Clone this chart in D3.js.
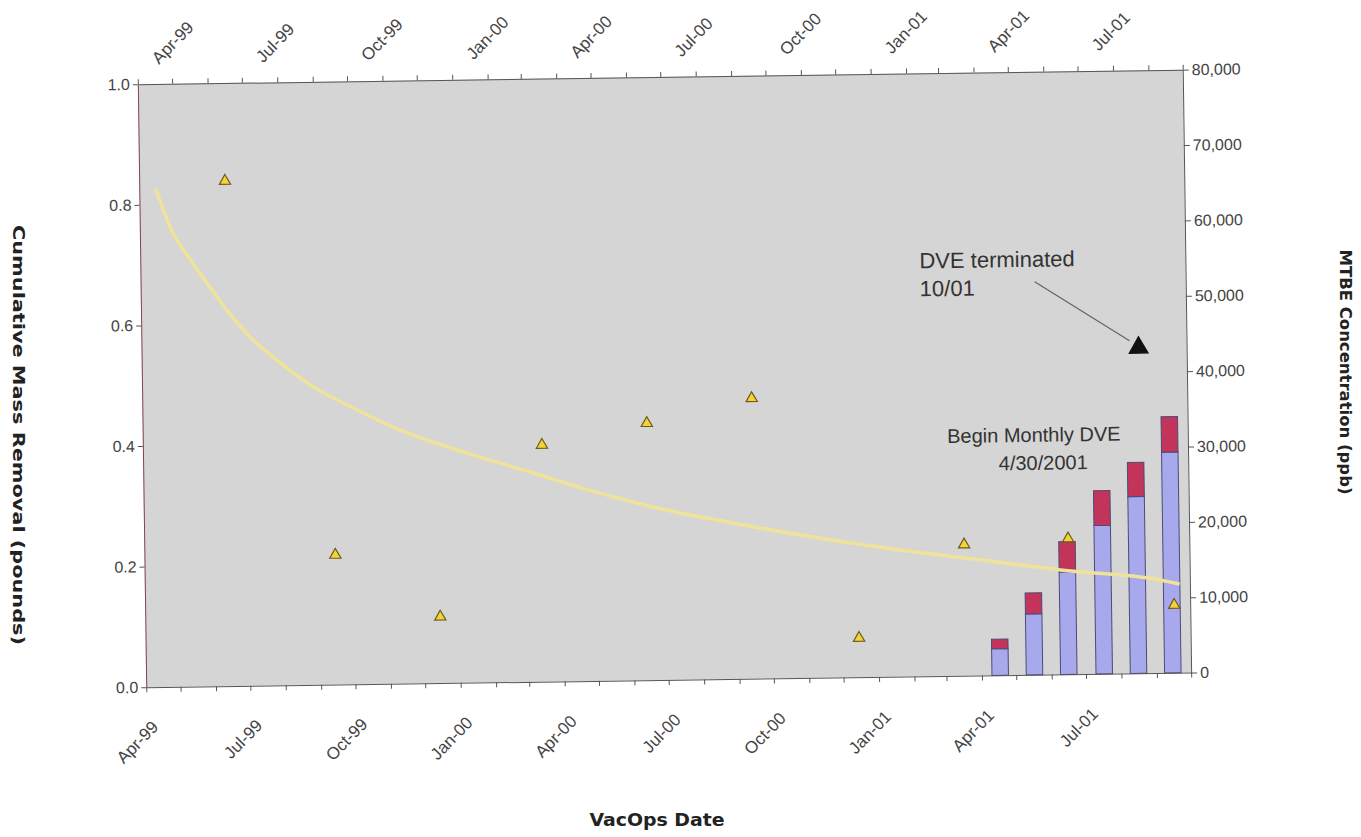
<!DOCTYPE html>
<html>
<head>
<meta charset="utf-8">
<script src="https://cdn.jsdelivr.net/npm/d3@7"></script>
<style>
body { margin: 0; background: #fff; }
text { font-family: "Liberation Sans", Arial, sans-serif; }
.title { font-family: "Liberation Sans Narrow", "DejaVu Sans Condensed", "Liberation Sans", sans-serif; font-weight: bold; fill: #222; }
</style>
</head>
<body>
<div class="chart"></div>
<script>
const margin = ({top: 77, right: 174, bottom: 157, left: 142});
const width = 1361 - margin.left - margin.right;
const height = 837 - margin.top - margin.bottom;

const parseDate = d3.timeParse('%Y-%m-%d');

// axis extents and tick labels
const dateStart = '1999-04-01';
const dateEnd = '2001-10-01';
const quarterLabels = ['Apr-99', 'Jul-99', 'Oct-99', 'Jan-00', 'Apr-00', 'Jul-00', 'Oct-00', 'Jan-01', 'Apr-01', 'Jul-01'];
const leftTicks = [0, 0.2, 0.4, 0.6, 0.8, 1.0];
const rightTicks = [0, 10000, 20000, 30000, 40000, 50000, 60000, 70000, 80000];

// MTBE samples (ppb, right axis)
const mtbeDates = ['1999-06-15', '1999-09-15', '1999-12-15', '2000-03-15', '2000-06-15', '2000-09-15', '2000-12-15', '2001-03-18', '2001-06-17', '2001-09-17'];
const mtbePpb = [67000, 17200, 8800, 31400, 34100, 37200, 5200, 17400, 18000, 9000];

// last sample after DVE was shut off
const endDates = ['2001-08-20'];
const endPpb = [43200];

// trend curve
const trendDates = ['1999-04-15', '1999-04-30', '1999-05-15', '1999-05-29', '1999-06-15', '1999-07-05', '1999-07-31', '1999-08-29', '1999-09-27', '1999-11-12', '2000-01-09', '2000-03-07', '2000-05-04', '2000-07-02', '2000-08-28', '2000-10-26', '2001-01-21', '2001-04-18', '2001-06-10', '2001-09-05', '2001-09-22'];
const trendPpb = [66200, 60200, 56600, 53500, 49900, 46300, 42800, 39500, 37100, 33650, 30500, 27700, 24900, 22500, 20700, 18970, 16800, 15000, 13850, 12340, 11770];

// cumulative mass removal (pounds, left axis)
const barDates = ['2001-04-17', '2001-05-17', '2001-06-16', '2001-07-17', '2001-08-16', '2001-09-15'];
const removalBlue = [0.044, 0.101, 0.170, 0.246, 0.293, 0.366];
const removalRed = [0.016, 0.035, 0.050, 0.058, 0.057, 0.059];

const x = d3.scaleTime()
    .domain([parseDate(dateStart), parseDate(dateEnd)])
    .range([0, width]);

const yL = d3.scaleLinear().domain([0, 1]).range([height, 0]);
const yR = d3.scaleLinear().domain([0, 80000]).range([height, 0]);

const fmt = d3.timeFormat('%b-%y');
const monthLabel = d => quarterLabels.includes(fmt(d)) ? fmt(d) : '';

const svg = d3.select('.chart').append('svg')
    .attr('width', 1361)
    .attr('height', 837);

// the scanned page is a bit tilted
const g = svg.append('g')
    .attr('transform', 'rotate(-0.8, 660, 380) translate(' + margin.left + ',' + margin.top + ')');

g.append('rect')
    .attr('width', width)
    .attr('height', height)
    .attr('fill', '#d5d5d5');

// bars
const barTable = barDates.map((d, i) => ({date: parseDate(d), blue: removalBlue[i], red: removalRed[i]}));
const stacked = d3.stack().keys(['blue', 'red'])(barTable);
const barColors = {blue: '#a8a8ec', red: '#c3345a'};
const barW = 16.5;

g.selectAll('.layer')
    .data(stacked)
    .enter().append('g')
    .attr('fill', d => barColors[d.key])
    .selectAll('rect')
    .data(d => d)
    .enter().append('rect')
    .attr('x', d => x(d.data.date) - barW / 2)
    .attr('y', d => yL(d[1]))
    .attr('width', barW)
    .attr('height', d => yL(d[0]) - yL(d[1]))
    .attr('stroke', '#4b4b78')
    .attr('stroke-width', 1);

// trend
const trend = trendDates.map((d, i) => ({date: parseDate(d), v: trendPpb[i]}));
g.append('path')
    .datum(trend)
    .attr('fill', 'none')
    .attr('stroke', '#efe39a')
    .attr('stroke-width', 3.5)
    .attr('d', d3.line().curve(d3.curveMonotoneX).x(d => x(d.date)).y(d => yR(d.v)));

// MTBE points
const tri = d3.symbol(d3.symbolTriangle, 55);
g.selectAll('.mtbe')
    .data(mtbeDates.map((d, i) => ({date: parseDate(d), v: mtbePpb[i]})))
    .enter().append('path')
    .attr('d', tri)
    .attr('transform', d => 'translate(' + x(d.date) + ',' + yR(d.v) + ')')
    .attr('fill', '#f3d33a')
    .attr('stroke', '#6e5a1c')
    .attr('stroke-width', 1.2);

const endPts = endDates.map((d, i) => ({date: parseDate(d), v: endPpb[i]}));
g.selectAll('.endpt')
    .data(endPts)
    .enter().append('path')
    .attr('d', d3.symbol(d3.symbolTriangle, 190))
    .attr('transform', d => 'translate(' + x(d.date) + ',' + yR(d.v) + ')')
    .attr('fill', '#111');

// annotations
g.append('line')
    .attr('x1', 894).attr('y1', 210)
    .attr('x2', x(endPts[0].date) - 9).attr('y2', yR(endPts[0].v) - 7)
    .attr('stroke', '#666').attr('stroke-width', 1.3);

g.append('text').attr('x', 779).attr('y', 195).attr('font-size', 22).attr('fill', '#333').text('DVE terminated');
g.append('text').attr('x', 779).attr('y', 223).attr('font-size', 22).attr('fill', '#333').text('10/01');
g.append('text').attr('x', 891).attr('y', 370).attr('font-size', 20).attr('fill', '#333').attr('text-anchor', 'middle').text('Begin Monthly DVE');
g.append('text').attr('x', 900).attr('y', 398).attr('font-size', 20).attr('fill', '#333').attr('text-anchor', 'middle').text('4/30/2001');

// axes
const styleAxis = (sel, size) => {
    sel.selectAll('path, line').attr('stroke', '#555');
    sel.selectAll('text').attr('font-size', size).attr('fill', '#444').style('font-family', '"Liberation Sans", Arial, sans-serif');
};

const xAxisBottom = g.append('g')
    .attr('transform', 'translate(0,' + height + ')')
    .call(d3.axisBottom(x).ticks(d3.timeMonth.every(1)).tickSize(5).tickSizeOuter(0).tickFormat(monthLabel))
    .call(styleAxis, 17);
xAxisBottom.selectAll('.tick text')
    .attr('y', 0).attr('dy', 0)
    .attr('transform', 'translate(12,41) rotate(-45)')
    .style('text-anchor', 'end');

const xAxisTop = g.append('g')
    .call(d3.axisTop(x).ticks(d3.timeMonth.every(1)).tickSize(5).tickSizeOuter(0).tickFormat(monthLabel))
    .call(styleAxis, 17);
xAxisTop.selectAll('.tick text')
    .attr('y', 0).attr('dy', 0)
    .attr('transform', 'translate(21,-19) rotate(-45)')
    .style('text-anchor', 'start');

const yAxisLeft = g.append('g')
    .call(d3.axisLeft(yL).tickValues(leftTicks).tickSize(5).tickSizeOuter(0).tickFormat(d3.format('.1f')))
    .call(styleAxis, 16);
yAxisLeft.select('.domain').attr('stroke', '#8a4252');

const yAxisRight = g.append('g')
    .attr('transform', 'translate(' + width + ',0)')
    .call(d3.axisRight(yR).tickValues(rightTicks).tickSize(6).tickSizeOuter(0).tickFormat(d3.format(',')))
    .call(styleAxis, 16);

// axis titles
svg.append('text').attr('class', 'title')
    .attr('transform', 'translate(13,435) rotate(90)')
    .attr('text-anchor', 'middle')
    .attr('font-size', 15)
    .attr('textLength', 420).attr('lengthAdjust', 'spacingAndGlyphs')
    .text('Cumulative Mass Removal (pounds)');

svg.append('text').attr('class', 'title')
    .attr('transform', 'translate(1340,372) rotate(90)')
    .attr('text-anchor', 'middle')
    .attr('font-size', 15)
    .attr('textLength', 245).attr('lengthAdjust', 'spacingAndGlyphs')
    .text('MTBE Concentration (ppb)');

svg.append('text').attr('class', 'title')
    .attr('x', 657).attr('y', 826)
    .attr('text-anchor', 'middle')
    .attr('font-size', 17)
    .attr('textLength', 135).attr('lengthAdjust', 'spacingAndGlyphs')
    .text('VacOps Date');
</script>
</body>
</html>
